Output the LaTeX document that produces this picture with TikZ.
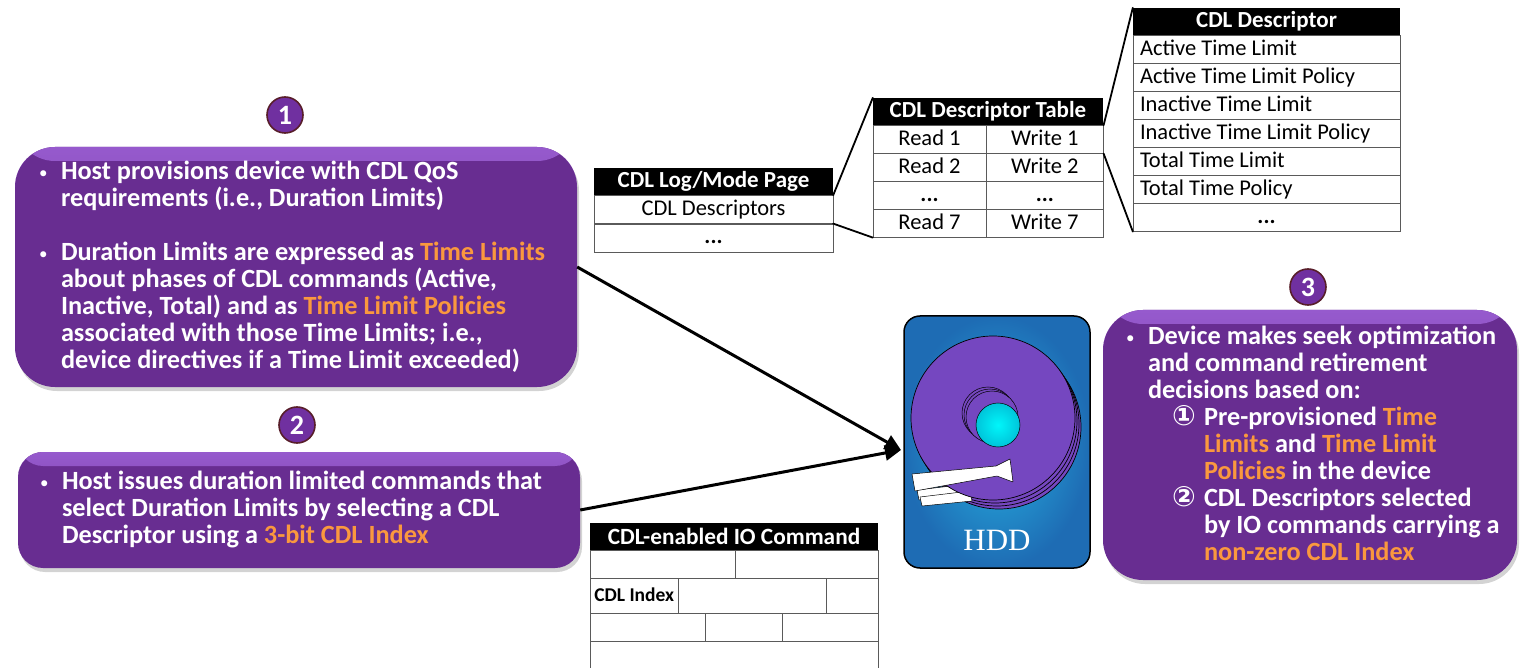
\documentclass[tikz,border=0pt]{standalone}
\usepackage{fontspec}
\setmainfont{Carlito}
\newfontfamily\symfont{DejaVu Sans}
\newfontfamily\hddfont{Liberation Serif}
\usepackage{xcolor}
\usepackage{tikz}
\usetikzlibrary{arrows.meta}
\usetikzlibrary{calc}
\usetikzlibrary{positioning}
\usetikzlibrary{shadows}

\definecolor{boxpurple}{RGB}{104,45,145}
\definecolor{boxlight}{RGB}{150,90,205}
\definecolor{numfill}{RGB}{112,48,160}
\definecolor{numedge}{RGB}{88,30,42}
\definecolor{hlorange}{RGB}{250,152,62}
\definecolor{hddblue}{RGB}{30,108,180}
\definecolor{hddlight}{RGB}{38,178,226}
\definecolor{platter}{RGB}{117,71,192}
\definecolor{hubdark}{RGB}{0,196,218}
\definecolor{hubbright}{RGB}{0,246,250}
\definecolor{cellgray}{RGB}{90,90,90}

\newcommand{\hl}[1]{\textcolor{hlorange}{#1}}
\newcommand{\bul}{\makebox[22pt][l]{\raisebox{1pt}{\fontsize{17}{17}\selectfont\mdseries\textbullet}}}
\newcommand{\ind}{\hspace*{22pt}}
\newcommand{\cn}[1]{\hspace*{46pt}\makebox[32pt][l]{\symfont\fontsize{28}{27}\selectfont #1}}
\newcommand{\subind}{\hspace*{78pt}}
\newcommand{\lcell}[1]{\makebox[253pt][l]{#1}}

\tikzstyle{pbox} = [rounded corners=40pt, fill=boxpurple,
  drop shadow={opacity=0.35, shadow xshift=2pt, shadow yshift=-4pt},
  path picture={\shade[top color=boxlight, bottom color=boxpurple]
    (path picture bounding box.north west) rectangle
    ([yshift=-14pt]path picture bounding box.north east);}]
\tikzstyle{btxt} = [text=white, align=left, inner sep=0pt,
  font=\fontsize{26.3}{27}\selectfont\bfseries]
\tikzstyle{numc} = [circle, fill=numfill, draw=numedge, line width=1.6pt,
  minimum size=36pt, inner sep=0pt, text=white,
  font=\fontsize{28}{28}\selectfont\bfseries]
\tikzstyle{hdr} = [fill=black, text=white, inner sep=0pt, minimum height=27pt,
  font=\fontsize{23}{23}\selectfont\bfseries]
\tikzstyle{cell} = [draw=cellgray, fill=white, inner sep=0pt, minimum height=28pt,
  text height=16pt, text depth=4pt, font=\fontsize{22.5}{23}\selectfont]
\tikzstyle{dcell} = [cell, minimum width=267pt]
\tikzstyle{tline} = [draw=cellgray]
\tikzstyle{link} = [line width=1.8pt, line cap=round]
\tikzstyle{bigarrow} = [line width=3pt, -{Triangle[length=16pt,width=15pt]}]
\tikzstyle{disk} = [fill=platter, draw=black, line width=0.7pt]
\tikzstyle{arm} = [fill=white, draw=black, line width=0.5pt, line join=round]

\begin{document}
\begin{tikzpicture}[x=1pt, y=-1pt]

    \useasboundingbox (0,0) rectangle (1524,668);

    % purple text boxes
    \node[pbox, minimum width=562pt, minimum height=240pt] (host) at (296,267) {};
    \node[pbox, rounded corners=25pt, minimum width=562pt, minimum height=116pt] (issue) at (299,510) {};
    \node[pbox, minimum width=414pt, minimum height=270pt] (device) at (1310,445) {};

    \node[numc] (n1) at (285,115) {1};
    \node[numc] (n2) at (297,425) {2};
    \node[numc] (n3) at (1308,287) {3};

    \node[btxt, anchor=north west] (hosttxt) at ([shift={(24,14)}]host.north west)
      {\bul Host provisions device with CDL QoS\\
       \ind requirements (i.e., Duration Limits)\\[27pt]
       \bul Duration Limits are expressed as \hl{Time Limits}\\
       \ind about phases of CDL commands (Active,\\
       \ind Inactive, Total) and as \hl{Time Limit Policies}\\
       \ind associated with those Time Limits; i.e.,\\
       \ind device directives if a Time Limit exceeded)};

    \node[btxt, anchor=north west] (issuetxt) at ([shift={(22,19)}]issue.north west)
      {\bul Host issues duration limited commands that\\
       \ind select Duration Limits by selecting a CDL\\
       \ind Descriptor using a \hl{3-bit CDL Index}};

    \node[btxt, anchor=north west] (devtxt) at ([shift={(23,16)}]device.north west)
      {\bul Device makes seek optimization\\
       \ind and command retirement\\
       \ind decisions based on:\\
       \cn{①}Pre-provisioned \hl{Time}\\
       \subind\hl{Limits} and \hl{Time Limit}\\
       \subind\hl{Policies} in the device\\
       \cn{②}CDL Descriptors selected\\
       \subind by IO commands carrying a\\
       \subind\hl{non-zero CDL Index}};

    % the drive
    \node[draw=black, line width=1.5pt, rounded corners=16pt, shading=radial,
      inner color=hddlight, outer color=hddblue,
      minimum width=186pt, minimum height=252pt] (hdd) at (997,442) {};
    \foreach \k in {3,2,1}{
      \draw[disk] (993+2*\k,418+3*\k) circle[radius=82];
    }
    % lower arms peek out under the top platter
    \draw[arm] (917,490) -- (985,482) -- (987,493) -- (919,500) -- cycle;
    \draw[arm] (920,497) -- (970,491) -- (972,501) -- (922,506) -- cycle;
    \draw[disk] (993,418) circle[radius=82];
    \foreach \k in {0,1,2}{
      \draw[disk, line width=0.5pt] (988+2*\k,413+2*\k) circle[radius=26];
    }
    \shade[inner color=hubbright, outer color=hubdark] (998,425) circle[radius=22];
    \draw[black, line width=0.5pt] (998,425) circle[radius=22];
    \draw[arm] (912,474) -- (996,466) -- (1010,459) -- (1013,482)
      -- (997,476) -- (915,491) -- cycle;
    \node[text=white, font=\fontsize{31}{31}\selectfont\hddfont] (hddtxt) at (997,540) {HDD};

    \coordinate (hddin) at (901,450);
    \draw[bigarrow] (host.east) -- (hddin);
    \draw[bigarrow] (issue.east) -- (hddin);

    % log/mode page
    \node[hdr, minimum width=239pt] (logh) at (713.5,181.5) {CDL Log/Mode Page};
    \node[cell, minimum width=239pt, below=0pt of logh] (logd) {CDL Descriptors};
    \node[cell, minimum width=239pt, below=0pt of logd] (loge) {\textbf{...}};

    % descriptor table
    \node[hdr, minimum width=230pt] (dtabh) at (988,111.5) {CDL Descriptor Table};
    \foreach \i/\r/\w in {1/Read 1/Write 1, 2/Read 2/Write 2,
                          3/\textbf{...}/\textbf{...}, 4/Read 7/Write 7}{
      \node[cell, minimum width=113pt, anchor=north west] (rd\i)
        at ($(dtabh.south west)+(0,{28*(\i-1)})$) {\r};
      \node[cell, minimum width=117pt, right=0pt of rd\i] (wr\i) {\w};
    }

    % one descriptor
    \node[hdr, minimum width=267pt] (cdlh) at (1266.5,21.5) {CDL Descriptor};
    \foreach \i/\t in {1/Active Time Limit, 2/Active Time Limit Policy,
                       3/Inactive Time Limit, 4/Inactive Time Limit Policy,
                       5/Total Time Limit, 6/Total Time Policy}{
      \node[dcell, anchor=north west] (dc\i)
        at ($(cdlh.south west)+(0,{28*(\i-1)})$) {\lcell{\t}};
    }
    \node[dcell, anchor=north west] (dc7)
      at ($(cdlh.south west)+(0,168)$) {\textbf{...}};

    \draw[link] (logh.south east) -- (dtabh.north west);
    \draw[link] (logd.south east) -- (rd4.south west);
    \draw[link] (wr1.north east) -- (cdlh.north west);
    \draw[link] (wr1.south east) -- (dc7.south west);

    % IO command layout
    \node[hdr, minimum width=288pt, font=\fontsize{23.3}{23}\selectfont\bfseries] (cmdh) at (734,536.5) {CDL-enabled IO Command};
    \draw[tline] (590,550) rectangle (878,578);
    \draw[tline] (735,550) -- (735,578);
    \draw[tline] (590,578) rectangle (878,613);
    \node[cell, minimum width=88pt, minimum height=35pt, anchor=north west,
      font=\fontsize{19.5}{19}\selectfont\bfseries] (cdlidx) at (590,578) {CDL Index};
    \draw[tline] (826,578) -- (826,613);
    \draw[tline] (590,613) rectangle (878,641);
    \draw[tline] (705,613) -- (705,641);
    \draw[tline] (782,613) -- (782,641);
    \draw[tline] (590,668) -- (590,641) -- (878,641) -- (878,668);

\end{tikzpicture}
\end{document}
